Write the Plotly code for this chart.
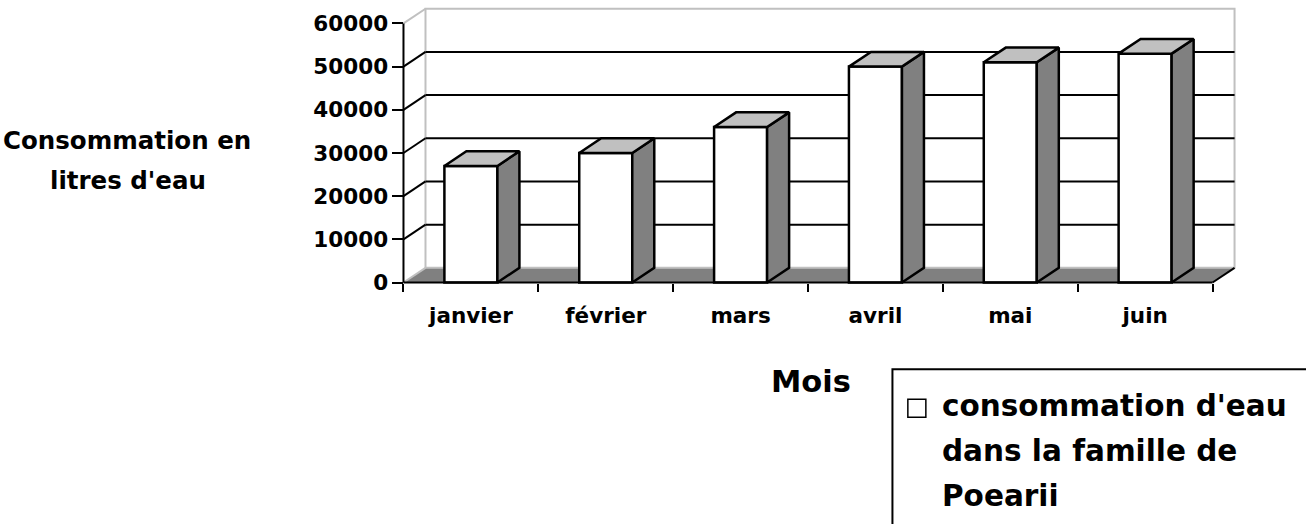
import plotly.graph_objects as go

# ---------------- data ----------------
months = ["janvier", "février", "mars", "avril", "mai", "juin"]
consumption = [27000, 30000, 36000, 50000, 51000, 53000]
y_ticks = [0, 10000, 20000, 30000, 40000, 50000, 60000]
y_tick_labels = ["0", "10000", "20000", "30000", "40000", "50000", "60000"]
series_name = "consommation d'eau dans la famille de Poearii"
legend_lines = ["consommation d'eau", "dans la famille de", "Poearii"]
y_title_lines = ["Consommation en", "litres d'eau"]
x_title = "Mois"

# ---------------- geometry (pixels) ----------------
W, H = 1306, 524
PX_PER_CAT = 134.8
PX_PER_UNIT = 0.0043167
X0_PX, Y0_PX = 403.5, 282.7
DEPTH_PX_X, DEPTH_PX_Y = 22.0, 14.7
DX = DEPTH_PX_X / PX_PER_CAT
DY = DEPTH_PX_Y / PX_PER_UNIT
BAR_W = 53.0 / PX_PER_CAT
XMIN, XMAX = -0.1, 6.3
YMIN, YMAX = -1500, 64500

L = X0_PX + XMIN * PX_PER_CAT
PW = (XMAX - XMIN) * PX_PER_CAT
R = W - L - PW
T = Y0_PX - YMAX * PX_PER_UNIT
PH = (YMAX - YMIN) * PX_PER_UNIT
B = H - T - PH


def pxx(xp):
    return (xp - L) / PW


def pxy(yp):
    return (T + PH - yp) / PH


FONT = "DejaVu Sans"
BLACK = "#000000"
LIGHT = "#c0c0c0"
DARK = "#808080"
EDGE_W = 2.5

n = len(months)
centers = [i + 0.5 for i in range(n)]
top_tick = y_ticks[-1]

# ---------------- traces ----------------
fig = go.Figure()
fig.add_trace(go.Bar(
    x=centers, y=consumption, width=BAR_W, name=series_name,
    marker=dict(color="white", line=dict(color=BLACK, width=EDGE_W)),
    hoverinfo="skip",
))

side_x, side_y, top_x, top_y = [], [], [], []
for c, v in zip(centers, consumption):
    xl, xr = c - BAR_W / 2, c + BAR_W / 2
    side_x += [xr, xr + DX, xr + DX, xr, xr, None]
    side_y += [0, DY, v + DY, v, 0, None]
    top_x += [xl, xl + DX, xr + DX, xr, xl, None]
    top_y += [v, v + DY, v + DY, v, v, None]

fig.add_trace(go.Scatter(x=side_x, y=side_y, mode="lines", fill="toself",
                         fillcolor=DARK, line=dict(color=BLACK, width=EDGE_W),
                         hoverinfo="skip", showlegend=False))
fig.add_trace(go.Scatter(x=top_x, y=top_y, mode="lines", fill="toself",
                         fillcolor=LIGHT, line=dict(color=BLACK, width=EDGE_W),
                         hoverinfo="skip", showlegend=False))

# ---------------- 3D frame shapes ----------------
shapes = []
# floor
shapes.append(dict(type="path", xref="x", yref="y", layer="below",
                   path=f"M 0 0 L {n} 0 L {n + DX} {DY} L {DX} {DY} Z",
                   fillcolor=DARK, line=dict(width=0)))
# back wall
shapes.append(dict(type="rect", xref="x", yref="y", layer="below",
                   x0=DX, x1=n + DX, y0=DY, y1=top_tick + DY,
                   fillcolor="white", line=dict(color=LIGHT, width=2)))
# back-wall gridlines
for v in y_ticks[1:-1]:
    shapes.append(dict(type="line", xref="x", yref="y", layer="below",
                       x0=DX, x1=n + DX, y0=v + DY, y1=v + DY,
                       line=dict(color=BLACK, width=2)))
# left-wall diagonals
for v in y_ticks:
    col = LIGHT if v in (y_ticks[0], y_ticks[-1]) else BLACK
    shapes.append(dict(type="line", xref="x", yref="y", layer="below",
                       x0=0, x1=DX, y0=v, y1=v + DY,
                       line=dict(color=col, width=2)))
# axis lines
shapes.append(dict(type="line", xref="x", yref="y", layer="above",
                   x0=0, x1=0, y0=0, y1=top_tick, line=dict(color=BLACK, width=2)))
shapes.append(dict(type="line", xref="x", yref="y", layer="above",
                   x0=0, x1=n, y0=0, y1=0, line=dict(color=BLACK, width=2)))
shapes.append(dict(type="line", xref="x", yref="y", layer="above",
                   x0=n, x1=n + DX, y0=0, y1=DY, line=dict(color=BLACK, width=2)))

# legend box + swatch
shapes.append(dict(type="rect", xref="paper", yref="paper",
                   x0=pxx(892.3), x1=pxx(1340), y0=pxy(369.3), y1=pxy(580),
                   fillcolor="white", line=dict(color=BLACK, width=2)))
shapes.append(dict(type="rect", xref="paper", yref="paper",
                   x0=pxx(907.7), x1=pxx(925.7), y0=pxy(399.3), y1=pxy(417.3),
                   fillcolor="white", line=dict(color=BLACK, width=1.5)))

# ---------------- annotations ----------------
annotations = []


def add_text(text, x_px, baseline_px, size, xanchor):
    annotations.append(dict(
        text=text, xref="paper", yref="paper", showarrow=False,
        x=pxx(x_px), y=pxy(baseline_px - 0.346 * size),
        xanchor=xanchor, yanchor="middle",
        font=dict(family=FONT, size=size, color=BLACK, weight="bold"),
    ))


TITLE_FS = 24.5
add_text(y_title_lines[0], 127, 149.5, TITLE_FS, "center")
add_text(y_title_lines[1], 128, 189.0, TITLE_FS, "center")
add_text(x_title, 810.8, 391.7, 30.5, "center")
LEG_FS = 29.5
for i, line in enumerate(legend_lines):
    add_text(line, 940.0, 416.7 + 45 * i, LEG_FS, "left")

tick_font = dict(family=FONT, size=21.5, color=BLACK, weight="bold")

fig.update_layout(
    width=W, height=H,
    margin=dict(l=L, r=R, t=T, b=B, pad=0, autoexpand=False),
    paper_bgcolor="white", plot_bgcolor="rgba(0,0,0,0)",
    showlegend=False,
    shapes=shapes, annotations=annotations,
    xaxis=dict(
        range=[XMIN, XMAX], anchor="free", position=(0 - YMIN) / (YMAX - YMIN),
        tickmode="array", tickvals=centers, ticktext=months,
        ticks="outside", ticklen=14, tickcolor="rgba(0,0,0,0)",
        minor=dict(tickmode="array", tickvals=list(range(n + 1)), ticks="outside",
                   ticklen=8, tickwidth=2, tickcolor=BLACK, showgrid=False),
        showgrid=False, zeroline=False, showline=False,
        tickfont=tick_font, fixedrange=True, automargin=False,
    ),
    yaxis=dict(
        range=[YMIN, YMAX], anchor="free", position=(0 - XMIN) / (XMAX - XMIN),
        tickmode="array", tickvals=y_ticks, ticktext=y_tick_labels,
        ticks="outside", ticklen=11, tickwidth=2, tickcolor=BLACK,
        showgrid=False, zeroline=False, showline=False,
        tickfont=tick_font, fixedrange=True, automargin=False,
    ),
)

fig.write_html(
    "out.html",
    config={"displayModeBar": False, "staticPlot": True},
    post_script="document.body.style.margin='0';document.body.style.overflow='hidden';",
)
